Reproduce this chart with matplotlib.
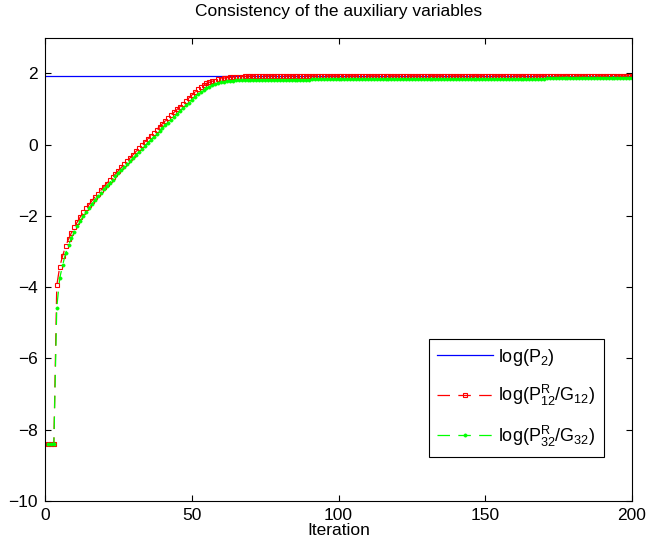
import numpy as np
import matplotlib
matplotlib.use("Agg")
import matplotlib.pyplot as plt

plt.rcParams['font.family'] = ['Liberation Sans', 'DejaVu Sans']
plt.rcParams['mathtext.fontset'] = 'custom'
plt.rcParams['mathtext.rm'] = 'Liberation Sans'
plt.rcParams['mathtext.it'] = 'Liberation Sans'
plt.rcParams['lines.scale_dashes'] = False

# log(P2): constant
p2_level = 1.93

# log(P12^R / G12), iterations 1..200
red_vals = [
    -8.40, -8.40, -8.40, -3.95, -3.43, -3.12, -2.85, -2.65, -2.47, -2.31,
    -2.17, -2.03, -1.90, -1.79, -1.68, -1.57, -1.47, -1.38, -1.28, -1.18,
    -1.09, -1.00, -0.91, -0.82, -0.73, -0.64, -0.55, -0.46, -0.37, -0.28,
    -0.19, -0.10, -0.01, 0.08, 0.16, 0.25, 0.33, 0.42, 0.50, 0.59,
    0.67, 0.75, 0.83, 0.91, 0.99, 1.07, 1.15, 1.23, 1.31, 1.39,
    1.47, 1.55, 1.62, 1.67, 1.72, 1.75, 1.78, 1.80, 1.83, 1.85,
    1.87, 1.88, 1.89, 1.89, 1.90, 1.90, 1.91, 1.92, 1.92, 1.93,
    1.93, 1.93, 1.93, 1.93, 1.93, 1.93, 1.93, 1.93, 1.93, 1.93,
    1.93, 1.93, 1.93, 1.93, 1.93, 1.93, 1.93, 1.93, 1.93, 1.93,
    1.93, 1.93, 1.93, 1.93, 1.93, 1.93, 1.93, 1.93, 1.93, 1.93,
    1.93, 1.93, 1.93, 1.93, 1.93, 1.93, 1.93, 1.93, 1.93, 1.93,
    1.93, 1.93, 1.93, 1.93, 1.93, 1.93, 1.93, 1.93, 1.93, 1.93,
    1.93, 1.93, 1.93, 1.93, 1.93, 1.93, 1.93, 1.93, 1.93, 1.93,
    1.93, 1.93, 1.93, 1.93, 1.93, 1.93, 1.93, 1.93, 1.93, 1.93,
    1.93, 1.93, 1.93, 1.93, 1.93, 1.93, 1.93, 1.93, 1.93, 1.93,
    1.93, 1.93, 1.93, 1.93, 1.93, 1.93, 1.93, 1.93, 1.93, 1.93,
    1.93, 1.93, 1.93, 1.93, 1.93, 1.93, 1.93, 1.93, 1.93, 1.93,
    1.93, 1.93, 1.93, 1.93, 1.93, 1.93, 1.93, 1.93, 1.93, 1.93,
    1.93, 1.93, 1.93, 1.93, 1.93, 1.93, 1.93, 1.93, 1.93, 1.93,
    1.93, 1.93, 1.93, 1.93, 1.93, 1.93, 1.93, 1.93, 1.93, 1.93,
]

# log(P32^R / G32), iterations 1..200
green_vals = [
    -8.40, -8.40, -8.40, -4.57, -3.75, -3.38, -3.05, -2.82, -2.62, -2.45,
    -2.29, -2.15, -2.01, -1.89, -1.77, -1.66, -1.55, -1.45, -1.35, -1.25,
    -1.16, -1.07, -0.98, -0.89, -0.80, -0.72, -0.63, -0.55, -0.46, -0.38,
    -0.29, -0.21, -0.12, -0.04, 0.05, 0.13, 0.21, 0.29, 0.38, 0.46,
    0.54, 0.62, 0.70, 0.78, 0.86, 0.94, 1.02, 1.10, 1.18, 1.26,
    1.34, 1.41, 1.48, 1.54, 1.59, 1.63, 1.67, 1.70, 1.73, 1.75,
    1.77, 1.78, 1.79, 1.80, 1.81, 1.82, 1.82, 1.82, 1.82, 1.82,
    1.82, 1.82, 1.82, 1.82, 1.82, 1.82, 1.82, 1.82, 1.82, 1.82,
    1.82, 1.82, 1.82, 1.82, 1.82, 1.82, 1.82, 1.82, 1.82, 1.82,
    1.83, 1.83, 1.83, 1.83, 1.83, 1.83, 1.83, 1.83, 1.83, 1.83,
    1.83, 1.83, 1.83, 1.83, 1.83, 1.83, 1.83, 1.83, 1.83, 1.83,
    1.83, 1.83, 1.83, 1.83, 1.83, 1.83, 1.83, 1.83, 1.83, 1.83,
    1.84, 1.84, 1.84, 1.84, 1.84, 1.84, 1.84, 1.84, 1.84, 1.84,
    1.84, 1.84, 1.84, 1.84, 1.84, 1.84, 1.84, 1.84, 1.84, 1.84,
    1.84, 1.84, 1.84, 1.84, 1.84, 1.84, 1.84, 1.84, 1.84, 1.84,
    1.85, 1.85, 1.85, 1.85, 1.85, 1.85, 1.85, 1.85, 1.85, 1.85,
    1.85, 1.85, 1.85, 1.85, 1.85, 1.85, 1.85, 1.85, 1.85, 1.85,
    1.86, 1.86, 1.86, 1.86, 1.86, 1.86, 1.86, 1.86, 1.86, 1.86,
    1.86, 1.86, 1.86, 1.86, 1.86, 1.87, 1.87, 1.87, 1.87, 1.87,
    1.87, 1.87, 1.87, 1.87, 1.87, 1.87, 1.87, 1.87, 1.87, 1.87,
]

iters = np.arange(1, len(red_vals) + 1)

labels = [r'log(P$_\mathrm{2}$)',
          r'log(P$^\mathrm{R}_\mathrm{12}$/G$_\mathrm{12}$)',
          r'log(P$^\mathrm{R}_\mathrm{32}$/G$_\mathrm{32}$)']

fig = plt.figure(figsize=(6.47, 5.45), dpi=100)
ax = fig.add_axes([0.0696, 0.0807, 0.9073, 0.850])

ax.axhline(p2_level, color=(0, 0, 1), lw=0.9, label=labels[0])
ax.plot(iters, red_vals, color=(1, 0, 0), lw=0.9, dashes=(9, 6),
        marker='s', markersize=3.5, markerfacecolor='none',
        markeredgewidth=0.8, label=labels[1])
ax.plot(iters, green_vals, color=(0, 1, 0), lw=0.9, dashes=(9, 6),
        marker='o', markersize=2.3, markeredgewidth=0.5,
        label=labels[2])

ax.set_xlim(0, 200)
ax.set_ylim(-10, 3)
ax.set_xticks([0, 50, 100, 150, 200])
ax.set_yticks([-10, -8, -6, -4, -2, 0, 2])
ax.tick_params(direction='in', top=True, right=True, length=4,
               labelsize=12.5, pad=5)
for s in ax.spines.values():
    s.set_linewidth(0.8)

ax.set_xlabel('Iteration', fontsize=12.5, labelpad=0)
ax.set_title('Consistency of the auxiliary variables', fontsize=12.5, pad=16)

leg = ax.legend(loc='lower right', bbox_to_anchor=(0.952, 0.0956),
                borderaxespad=0, fontsize=13, handlelength=3.1,
                handletextpad=0.3, labelspacing=0.85, fancybox=False,
                framealpha=1, edgecolor='black', borderpad=0.45)
leg.get_frame().set_linewidth(0.8)

fig.savefig('out.png', dpi=100)
